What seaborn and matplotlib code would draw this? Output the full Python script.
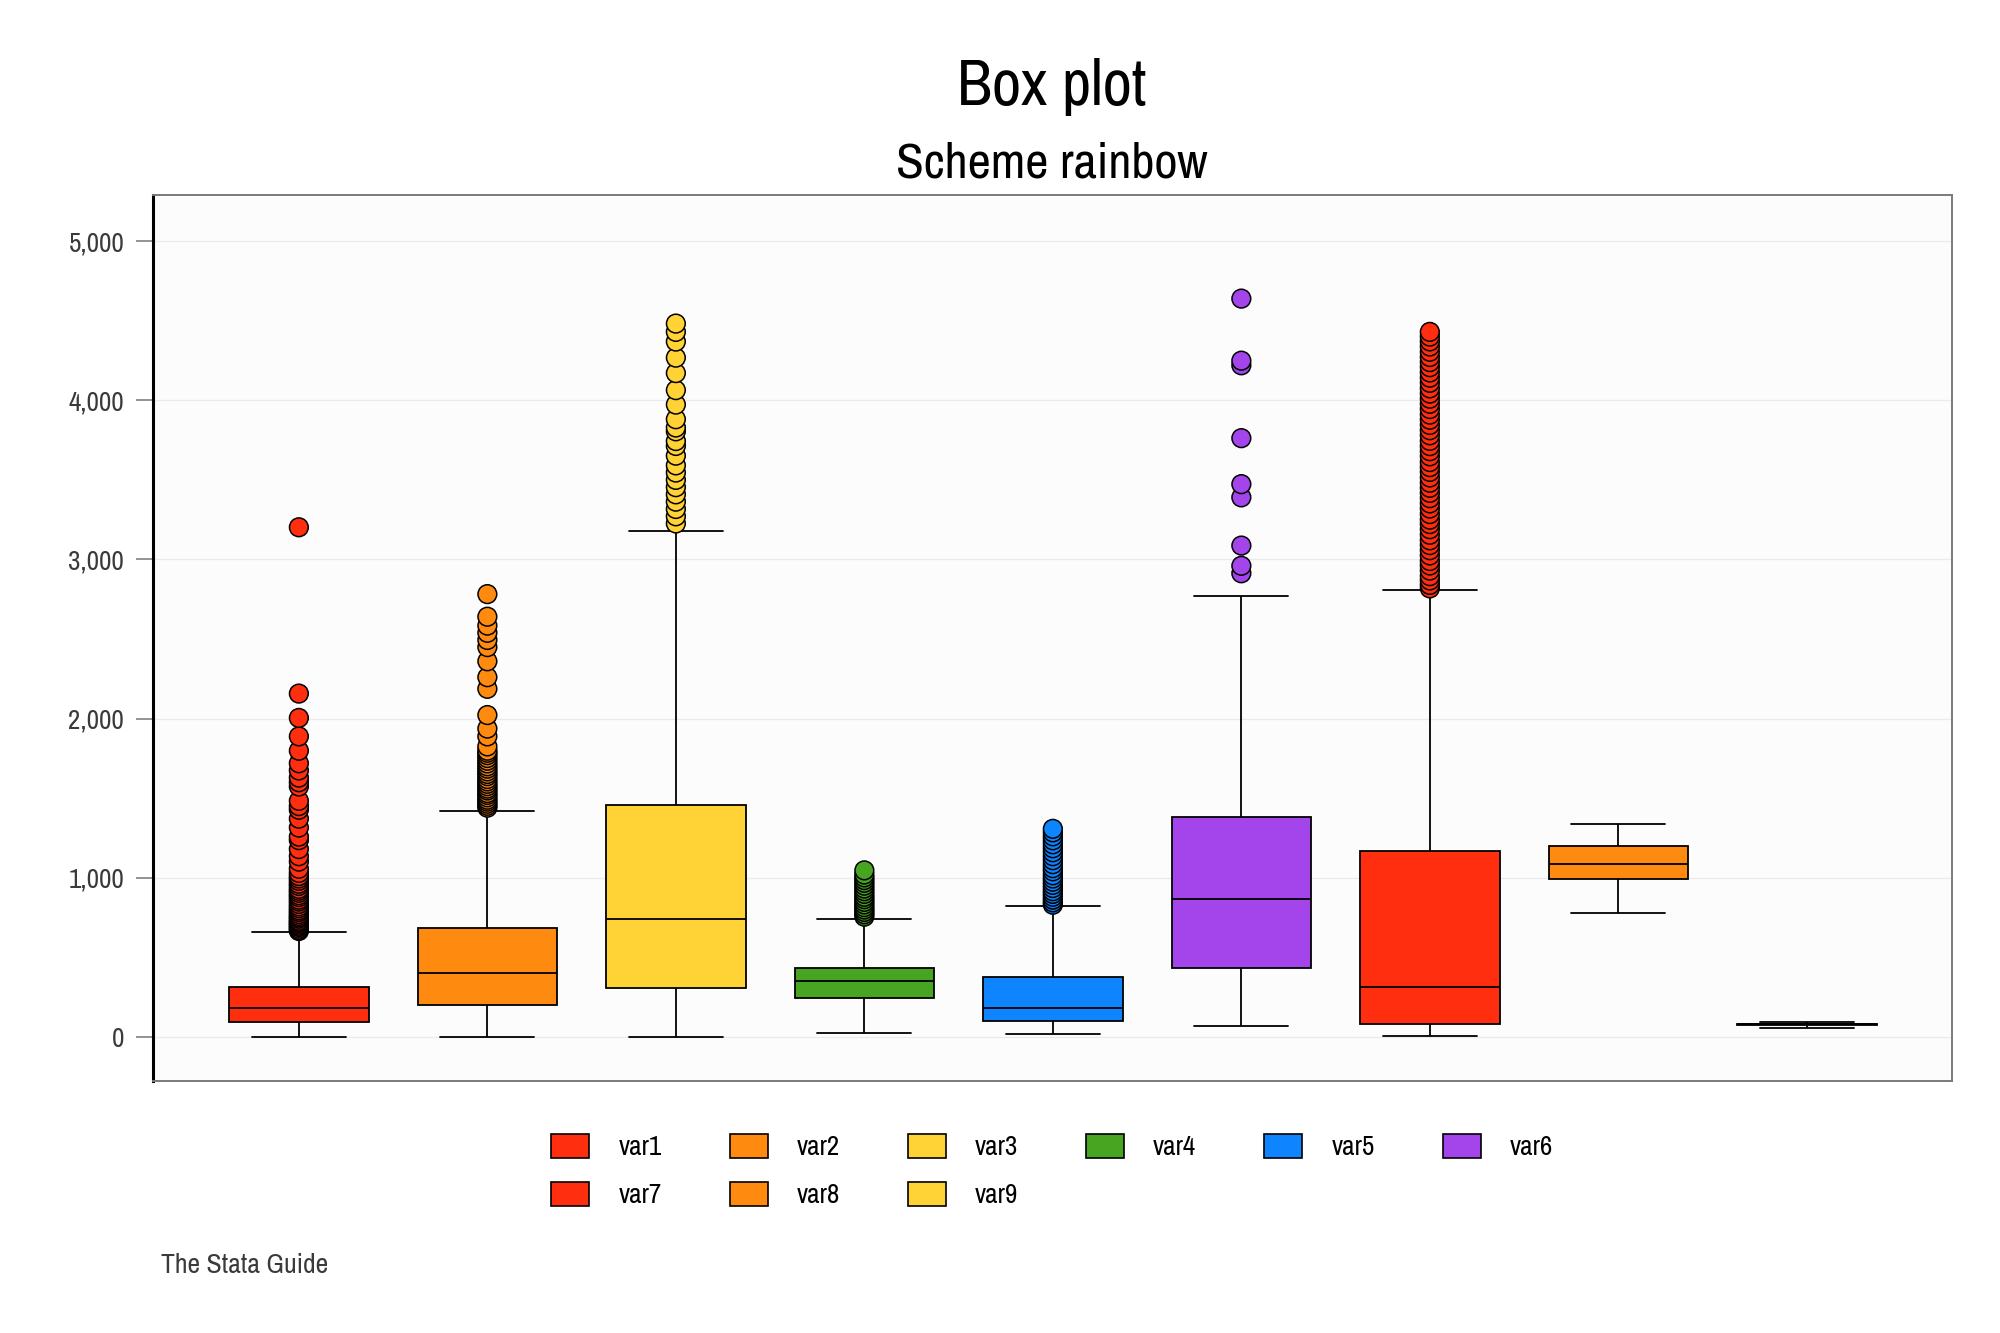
import matplotlib
matplotlib.use("Agg")
import matplotlib.pyplot as plt
from matplotlib import font_manager
from matplotlib.patches import Patch
from matplotlib.ticker import FuncFormatter
import pandas as pd
import seaborn as sns

VARIABLES = ["var1", "var2", "var3", "var4", "var5", "var6", "var7", "var8", "var9"]
COLORS = ["#FF2E0E", "#FF8A10", "#FFD236", "#48A522", "#0E85FF",
          "#A345EA", "#FF2E0E", "#FF8A10", "#FFD236"]

# box summaries
WHISKER_LOW = [0, 0, 0, 27, 18, 65, 4, 780, 56]
Q1 = [94, 198, 308, 244, 97, 433, 83, 993, 76]
MEDIAN = [180, 398, 741, 348, 180, 866, 314, 1083, 78]
Q3 = [312, 681, 1454, 430, 379, 1379, 1166, 1202, 80]
WHISKER_HIGH = [658, 1416, 3180, 741, 823, 2773, 2809, 1336, 94]

# outside values
OUT_VAR1 = [665, 672, 680, 690, 698, 705, 715, 722, 730, 742, 750, 760, 772, 785,
            795, 808, 820, 835, 850, 862, 878, 890, 905, 918, 930, 948, 962, 980,
            995, 1010, 1030, 1056, 1101, 1135, 1180, 1236, 1258, 1315, 1371, 1427,
            1450, 1483, 1573, 1600, 1629, 1674, 1719, 1798, 1888, 2004, 2157, 3202]
OUT_VAR2 = [1440, 1452, 1465, 1478, 1490, 1505, 1520, 1532, 1548, 1560, 1575, 1590,
            1605, 1620, 1638, 1652, 1668, 1685, 1700, 1718, 1735, 1752, 1770, 1785,
            1798, 1825, 1888, 1937, 2022, 2187, 2260, 2360, 2449, 2494, 2539, 2584,
            2640, 2782]
OUT_VAR3 = [3226, 3271, 3317, 3363, 3409, 3454, 3500, 3546, 3591, 3652, 3713, 3744,
            3805, 3829, 3881, 3973, 4064, 4171, 4268, 4369, 4430, 4482]
OUT_VAR4 = [755, 770, 785, 800, 815, 832, 848, 865, 880, 898, 915, 932, 950, 968,
            985, 1002, 1020, 1046]
OUT_VAR5 = [830, 845, 862, 880, 898, 915, 935, 955, 975, 995, 1015, 1040, 1060,
            1085, 1110, 1135, 1160, 1185, 1210, 1235, 1260, 1285, 1307]
OUT_VAR6 = [2913, 2960, 3087, 3390, 3473, 3762, 4220, 4249, 4639]
OUT_VAR7 = [2818, 2840, 2868, 2895, 2930, 2962, 2990, 3025, 3058, 3090, 3120, 3155,
            3190, 3222, 3250, 3285, 3320, 3352, 3385, 3418, 3450, 3482, 3515, 3550,
            3580, 3612, 3648, 3680, 3712, 3745, 3780, 3812, 3845, 3878, 3910, 3945,
            3978, 4010, 4042, 4075, 4110, 4142, 4175, 4208, 4240, 4272, 4305, 4338,
            4370, 4400, 4430]
OUT_VAR8 = []
OUT_VAR9 = []

TITLE = "Box plot"
SUBTITLE = "Scheme rainbow"
CAPTION = "The Stata Guide"


def pickFont():
    # the original uses a narrow Arial-like face; take the closest one installed
    fonts = font_manager.fontManager.ttflist
    names = {f.name for f in fonts}
    for wanted in ["Liberation Sans Narrow", "Arial Narrow"]:
        if wanted in names:
            return wanted, "normal", 1.0
    for f in fonts:
        if "Narrow" in f.name or "Condensed" in f.name:
            return f.name, "normal", 1.0
    for f in fonts:
        st = f.stretch if isinstance(f.stretch, str) else str(f.stretch)
        if "condensed" in st and f.name in ("Liberation Sans", "DejaVu Sans",
                                             "Roboto", "Open Sans", "Noto Sans"):
            return f.name, "condensed", 1.0
    # no narrow face: Liberation Sans, a bit smaller so widths stay close
    return "Liberation Sans", "normal", 0.86


def main():
    sns.set_theme(style="white")
    fam, stretch, scale = pickFont()
    plt.rcParams["font.family"] = [fam, "DejaVu Sans"]
    plt.rcParams["font.stretch"] = stretch

    palette = dict(zip(VARIABLES, COLORS))

    rows = []
    for i, v in enumerate(VARIABLES):
        for val in (WHISKER_LOW[i], Q1[i], MEDIAN[i], Q3[i], WHISKER_HIGH[i]):
            rows.append((v, val))
    box_df = pd.DataFrame(rows, columns=["var", "value"])

    outs = [OUT_VAR1, OUT_VAR2, OUT_VAR3, OUT_VAR4, OUT_VAR5,
            OUT_VAR6, OUT_VAR7, OUT_VAR8, OUT_VAR9]
    out_df = pd.DataFrame([(v, x) for v, lst in zip(VARIABLES, outs) for x in lst],
                          columns=["var", "value"])

    fig = plt.figure(figsize=(20, 13.33), dpi=100)
    left, bottom, width, height = 0.0763, 0.189, 0.8995, 0.6647
    ax = fig.add_axes([left, bottom, width, height])
    ax.set_facecolor("#FCFCFC")

    sns.boxplot(data=box_df, x="var", y="value", hue="var", order=VARIABLES,
                palette=palette, saturation=1, width=0.74, whis=(0, 100),
                showfliers=False, linecolor="black", linewidth=1.3,
                legend=False, capwidths=0.5, ax=ax)
    sns.stripplot(data=out_df, x="var", y="value", hue="var", order=VARIABLES,
                  palette=palette, jitter=False, size=13.5, linewidth=1.1,
                  edgecolor="black", legend=False, ax=ax, zorder=3)

    ax.set_xlim(-0.776, 8.768)
    ax.set_ylim(-278, 5290)
    ax.set_yticks([0, 1000, 2000, 3000, 4000, 5000])
    ax.yaxis.set_major_formatter(FuncFormatter(lambda y, _: f"{int(y):,}"))
    ax.grid(axis="y", color="#EBEBEB", linewidth=0.9)
    ax.set_axisbelow(True)
    ax.set_xlabel("")
    ax.set_ylabel("")
    ax.tick_params(axis="x", bottom=False, labelbottom=False)
    ax.tick_params(axis="y", left=True, length=12.5, width=1.2, color="#808080",
                   pad=8, labelsize=19.5 * scale, labelcolor="#3A3A3A")
    for name in ("top", "right", "bottom"):
        ax.spines[name].set_color("#7A7A7A")
        ax.spines[name].set_linewidth(1.4)
    ax.spines["left"].set_color("black")
    ax.spines["left"].set_linewidth(2.2)

    cx = left + width / 2
    fig.text(cx, 0.9212, TITLE, ha="center", va="baseline",
             fontsize=46 * scale, color="black")
    fig.text(cx, 0.8672, SUBTITLE, ha="center", va="baseline",
             fontsize=36.5 * scale, color="black")
    fig.text(0.0806, 0.045, CAPTION, ha="left", va="baseline",
             fontsize=20 * scale, color="#3A3A3A")

    handles = [Patch(facecolor=c, edgecolor="black", linewidth=1.2, label=v)
               for v, c in zip(VARIABLES, COLORS)]
    # legend fills column-wise: rearrange so rows read var1..var6 / var7..var9
    order = [0, 6, 1, 7, 2, 8, 3, 4, 5]
    fs = 19.5 * scale
    em = fs * 1.389
    fig.legend([handles[i] for i in order], [VARIABLES[i] for i in order],
               loc="center", bbox_to_anchor=(cx, 0.1215), ncol=6, frameon=False,
               fontsize=fs, handlelength=38 / em, handleheight=27 / em,
               handletextpad=29 / em, columnspacing=68 / em,
               labelspacing=0.8, borderpad=0, labelcolor="black")

    fig.savefig("out.png", dpi=100, facecolor="white")


if __name__ == "__main__":
    main()
